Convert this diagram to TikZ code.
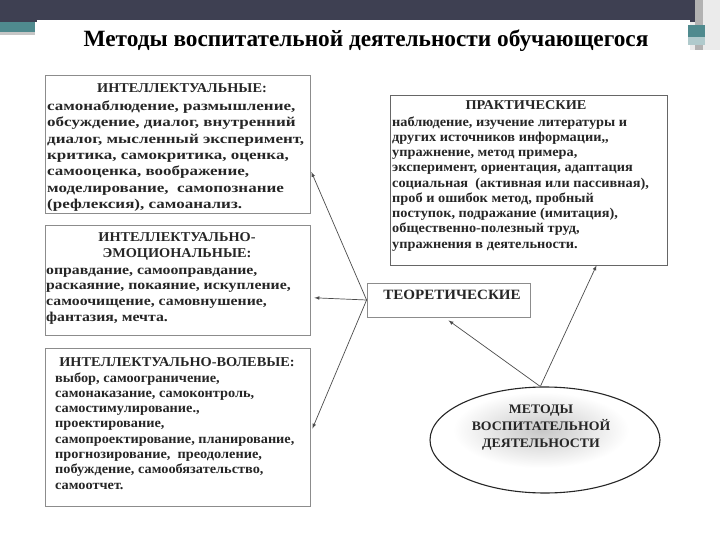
\documentclass[tikz,border=0pt]{standalone}
\usepackage{fontspec}
\setmainfont{Liberation Serif}
\newfontfamily\scanfont{Liberation Serif}[FakeStretch=1.06]
\newfontfamily\scanwide{Liberation Serif}[FakeStretch=1.17]
\newfontfamily\scanwider{Liberation Serif}[FakeStretch=1.26]
\usetikzlibrary{positioning, shapes.geometric}

\definecolor{topbar}{HTML}{3E4052}
\definecolor{stripe}{HTML}{4F8A8E}

\begin{document}
\begin{tikzpicture}[x=1pt, y=-1pt, >=latex,
  box/.style={draw=black!45, line width=0.8pt, inner sep=0pt},
  head/.style={font=\scanfont\bfseries\fontsize{13.5}{16}\selectfont, text=black!85, inner sep=0pt, align=center, anchor=base},
  body/.style={font=\scanfont\bfseries\fontsize{13.5}{#1}\selectfont, text=black!85, inner sep=0pt, align=left, anchor=base west},
  body/.default=15.4,
  link/.style={->, draw=black!70, line width=0.7pt}]

\useasboundingbox (0,0) rectangle (720,540);

% slide frame
\fill[white] (0,0) rectangle (720,540);
\fill[topbar] (0,0) rectangle (720,20);
\fill[topbar] (0,20) rectangle (37,22);
\fill[stripe] (0,22) rectangle (35,32);
\fill[gray!45] (0,32) rectangle (35,35);
\fill[black!8] (690,0) rectangle (720,50);
\fill[topbar] (690,0) rectangle (695,22);
\fill[black!30] (695,0) rectangle (703,50);
\fill[stripe] (688,25) rectangle (705,37);
\fill[stripe!45!white] (688,37) rectangle (705,45);

\node[font=\bfseries\fontsize{23.3}{27}\selectfont, anchor=base] (title) at (366,47)
  {Методы воспитательной деятельности обучающегося};

% boxes
\node[box, minimum width=265pt, minimum height=138pt] (int) at (177.5,144) {};
\node[box, minimum width=265pt, minimum height=110pt, below=12pt of int] (emo) {};
\node[box, minimum width=265pt, minimum height=158pt, below=12pt of emo] (vol) {};
\node[box, draw=black!60, minimum width=277pt, minimum height=170pt] (prak) at (528.5,180) {};
\node[box, minimum width=163pt, minimum height=34pt] (teor) at (448.5,300) {};
\shade[inner color=black!22, outer color=white] (541,430) ellipse (88pt and 38pt);
\node[ellipse, draw=black!85, line width=1.1pt,
  minimum width=230pt, minimum height=106pt] (metody) at (545,440) {};

% texts (base = last line)
\node[head] (intH) at (182,92.5) {ИНТЕЛЛЕКТУАЛЬНЫЕ:};
\node[body=16.3, font=\scanwider\bfseries\fontsize{13.5}{16.3}\selectfont] (intT) at (47,208.5)
 {самонаблюдение, размышление,\\
  обсуждение, диалог, внутренний\\
  диалог, мысленный эксперимент,\\
  критика, самокритика, оценка,\\
  самооценка, воображение,\\
  моделирование,\ \ самопознание\\
  (рефлексия), самоанализ.};

\node[head] (emoH) at (177,257.5) {ИНТЕЛЛЕКТУАЛЬНО-\\ЭМОЦИОНАЛЬНЫЕ:};
\node[body=15.7, font=\scanwide\bfseries\fontsize{13.5}{15.7}\selectfont] (emoT) at (46,321.1)
 {оправдание, самооправдание,\\
  раскаяние, покаяние, искупление,\\
  самоочищение, самовнушение,\\
  фантазия, мечта.};

\node[head] (volH) at (177,366.5) {ИНТЕЛЛЕКТУАЛЬНО-ВОЛЕВЫЕ:};
\node[body=15.3] (volT) at (55,489.1) {выбор, самоограничение,\\
  самонаказание, самоконтроль,\\
  самостимулирование.,\\
  проектирование,\\
  самопроектирование, планирование,\\
  прогнозирование,\ \ преодоление,\\
  побуждение, самообязательство,\\
  самоотчет.};

\node[head] (prakH) at (526,109.5) {ПРАКТИЧЕСКИЕ};
\node[body=15.25] (prakT) at (392,248) {наблюдение, изучение литературы и\\
  других источников информации,,\\
  упражнение, метод примера,\\
  эксперимент, ориентация, адаптация\\
  социальная\ \ (активная или пассивная),\\
  проб и ошибок метод, пробный\\
  поступок, подражание (имитация),\\
  общественно-полезный труд,\\
  упражнения в деятельности.};

\node[head, anchor=center, font=\scanfont\bfseries\fontsize{14.2}{17}\selectfont] (teorT) at (452,295) {ТЕОРЕТИЧЕСКИЕ};
\node[head, anchor=center, font=\scanfont\bfseries\fontsize{13}{17}\selectfont] (metodyT) at (541,428)
  {МЕТОДЫ\\ВОСПИТАТЕЛЬНОЙ\\ДЕЯТЕЛЬНОСТИ};

% arrows
\draw[link] (teor.west) -- ([yshift=-28pt, xshift=1pt]int.east);
\draw[link] (teor.west) -- ([yshift=-17pt, xshift=4pt]emo.east);
\draw[link] (teor.west) -- ([yshift=-1pt, xshift=2pt]vol.east);
\draw[link] (metody.95) -- ([yshift=-3pt]teor.south);
\draw[link] (metody.95) -- ([xshift=68pt]prak.south);

\end{tikzpicture}
\end{document}
